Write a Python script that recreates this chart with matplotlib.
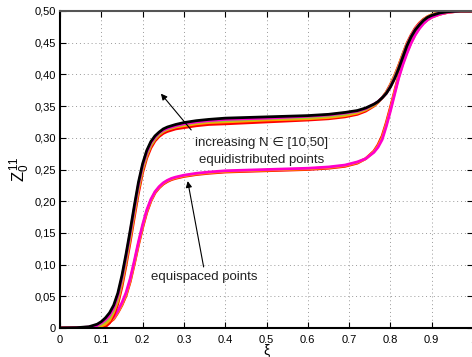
import matplotlib
matplotlib.use('Agg')
import matplotlib.pyplot as plt

plt.rcParams['font.family'] = ['Liberation Sans', 'DejaVu Sans']
plt.rcParams['mathtext.fontset'] = 'custom'
plt.rcParams['mathtext.rm'] = 'Liberation Sans'
plt.rcParams['mathtext.it'] = 'Liberation Sans'

# common abscissa for all curves
xi = [0, 0.04, 0.07, 0.09, 0.10, 0.11, 0.12, 0.13, 0.14, 0.15, 0.16, 0.17, 0.18,
      0.19, 0.20, 0.21, 0.22, 0.23, 0.24, 0.25, 0.26, 0.27, 0.28, 0.30, 0.33,
      0.36, 0.40, 0.50, 0.60, 0.65, 0.69, 0.72, 0.74, 0.76, 0.77, 0.78, 0.79,
      0.80, 0.81, 0.82, 0.83, 0.84, 0.85, 0.86, 0.87, 0.88, 0.89, 0.90, 0.92,
      0.94, 0.97, 1.00]

# equidistributed points, N = 10 .. 50
eqd_n10 = [0, 0, 0, 0, 0, .002, .008, .020, .038, .065,
           .099, .136, .175, .213, .245, .268, .284, .295, .302, .307,
           .310, .312, .314, .316, .319, .321, .322, .325, .328, .330,
           .333, .337, .342, .350, .356, .363, .372, .384, .398, .414,
           .432, .449, .462, .473, .481, .487, .491, .494, .498, .499,
           .500, .500]
eqd_n20 = [0, 0, 0, .001, .003, .006, .012, .025, .043, .071,
           .105, .142, .181, .219, .250, .272, .288, .298, .305, .310,
           .313, .315, .317, .319, .322, .324, .325, .328, .330, .332,
           .335, .339, .344, .351, .356, .363, .371, .383, .397, .413,
           .431, .448, .461, .472, .480, .486, .491, .494, .498, .499,
           .500, .500]
eqd_n30 = [0, 0, .001, .003, .006, .010, .016, .028, .047, .075,
           .109, .146, .185, .222, .252, .274, .289, .299, .306, .311,
           .314, .316, .318, .321, .324, .326, .327, .330, .332, .334,
           .337, .341, .345, .352, .357, .363, .371, .382, .396, .411,
           .430, .447, .460, .471, .479, .486, .490, .494, .497, .499,
           .500, .500]
eqd_n40 = [0, .0002, .001, .004, .008, .013, .020, .032, .051, .079,
           .113, .150, .189, .226, .256, .277, .292, .301, .308, .312,
           .315, .317, .319, .322, .325, .327, .329, .331, .334, .336,
           .339, .342, .346, .353, .357, .363, .370, .381, .394, .410,
           .428, .446, .460, .471, .479, .485, .490, .493, .497, .499,
           .500, .500]
eqd_n50 = [0, .0005, .002, .006, .010, .016, .024, .036, .055, .083,
           .117, .154, .193, .230, .259, .280, .294, .303, .309, .314,
           .317, .319, .321, .324, .327, .329, .331, .333, .335, .337,
           .340, .343, .347, .353, .357, .363, .370, .380, .393, .409,
           .427, .445, .459, .470, .478, .485, .490, .493, .497, .499,
           .500, .500]

# equispaced points
eqs_a = [0, 0, .0005, .0015, .0025, .005, .009, .014, .024, .036,
         .051, .073, .101, .131, .158, .182, .200, .213, .221, .227,
         .231, .234, .236, .239, .242, .244, .246, .248, .250, .252,
         .255, .260, .267, .279, .289, .303, .324, .348, .373, .398,
         .419, .436, .451, .464, .474, .481, .487, .491, .495, .498,
         .500, .500]
eqs_b = [0, 0, .001, .002, .003, .006, .010, .015, .025, .037,
         .053, .075, .103, .133, .160, .184, .201, .214, .222, .228,
         .232, .235, .237, .240, .243, .245, .247, .249, .251, .253,
         .256, .261, .267, .278, .287, .300, .321, .345, .371, .396,
         .417, .435, .450, .463, .473, .481, .486, .490, .495, .498,
         .500, .500]
eqs_c = [0, .0003, .0015, .003, .004, .007, .011, .017, .027, .040,
         .056, .078, .106, .136, .163, .186, .203, .215, .223, .229,
         .233, .236, .238, .241, .244, .246, .248, .250, .252, .254,
         .257, .262, .267, .277, .285, .297, .318, .342, .368, .394,
         .415, .433, .449, .462, .472, .480, .486, .490, .495, .498,
         .500, .500]

xticks = [0, 0.1, 0.2, 0.3, 0.4, 0.5, 0.6, 0.7, 0.8, 0.9, 1.0]
xtick_labels = ['0', '0.1', '0.2', '0.3', '0.4', '0.5', '0.6', '0.7', '0.8', '0.9', '1']
yticks = [0, 0.05, 0.10, 0.15, 0.20, 0.25, 0.30, 0.35, 0.40, 0.45, 0.50]
ytick_labels = ['0', '0,05', '0,10', '0,15', '0,20', '0,25', '0,30', '0,35', '0,40', '0,45', '0,50']

fig = plt.figure(figsize=(4.72, 3.57), dpi=100)
ax = fig.add_axes([60 / 472, 29 / 357, 413 / 472, 317 / 357])

lw = 2.0
for z, c in zip([eqs_a, eqs_b, eqs_c], ['red', 'orange', '#ff00cc']):
    ax.plot(xi, z, color=c, lw=lw, solid_capstyle='round', solid_joinstyle='round')
for z, c in zip([eqd_n10, eqd_n20, eqd_n30, eqd_n40, eqd_n50],
                ['red', 'orange', '#9acd32', '#ff00cc', 'black']):
    ax.plot(xi, z, color=c, lw=lw, solid_capstyle='round', solid_joinstyle='round')

ax.set_xlim(0, 1)
ax.set_ylim(0, 0.5)
ax.set_xticks(xticks)
ax.set_xticklabels(xtick_labels)
ax.set_yticks(yticks)
ax.set_yticklabels(ytick_labels)
ax.tick_params(direction='in', length=4, width=0.8, top=True, right=True,
               labelsize=8, pad=3)
ax.tick_params(axis='x', pad=5)
ax.grid(True, linestyle=(0, (1, 3)), color='#999999', lw=0.7)

for s in ['left', 'bottom']:
    ax.spines[s].set_linewidth(1.5)
    ax.spines[s].set_color('black')
ax.spines['top'].set_color('#555555')
ax.spines['top'].set_linewidth(1.5)

ax.set_xlabel('ξ', fontsize=10, labelpad=-1)
ax.set_ylabel('$Z_0^{11}$', fontsize=12, labelpad=2)

arrow = dict(arrowstyle='-|>', color='black', lw=0.8, mutation_scale=9)
ax.annotate('', xy=(0.240, 0.373), xytext=(0.322, 0.309), arrowprops=arrow)
ax.text(0.487, 0.292, 'increasing N ∈ [10,50]', ha='center', va='center', fontsize=9.5, color='#222222')
ax.text(0.487, 0.265, 'equidistributed points', ha='center', va='center', fontsize=9.5, color='#222222')
ax.annotate('', xy=(0.308, 0.236), xytext=(0.349, 0.092), arrowprops=arrow)
ax.text(0.350, 0.080, 'equispaced points', ha='center', va='center', fontsize=9.5, color='#222222')

fig.savefig('out.png', dpi=100)
